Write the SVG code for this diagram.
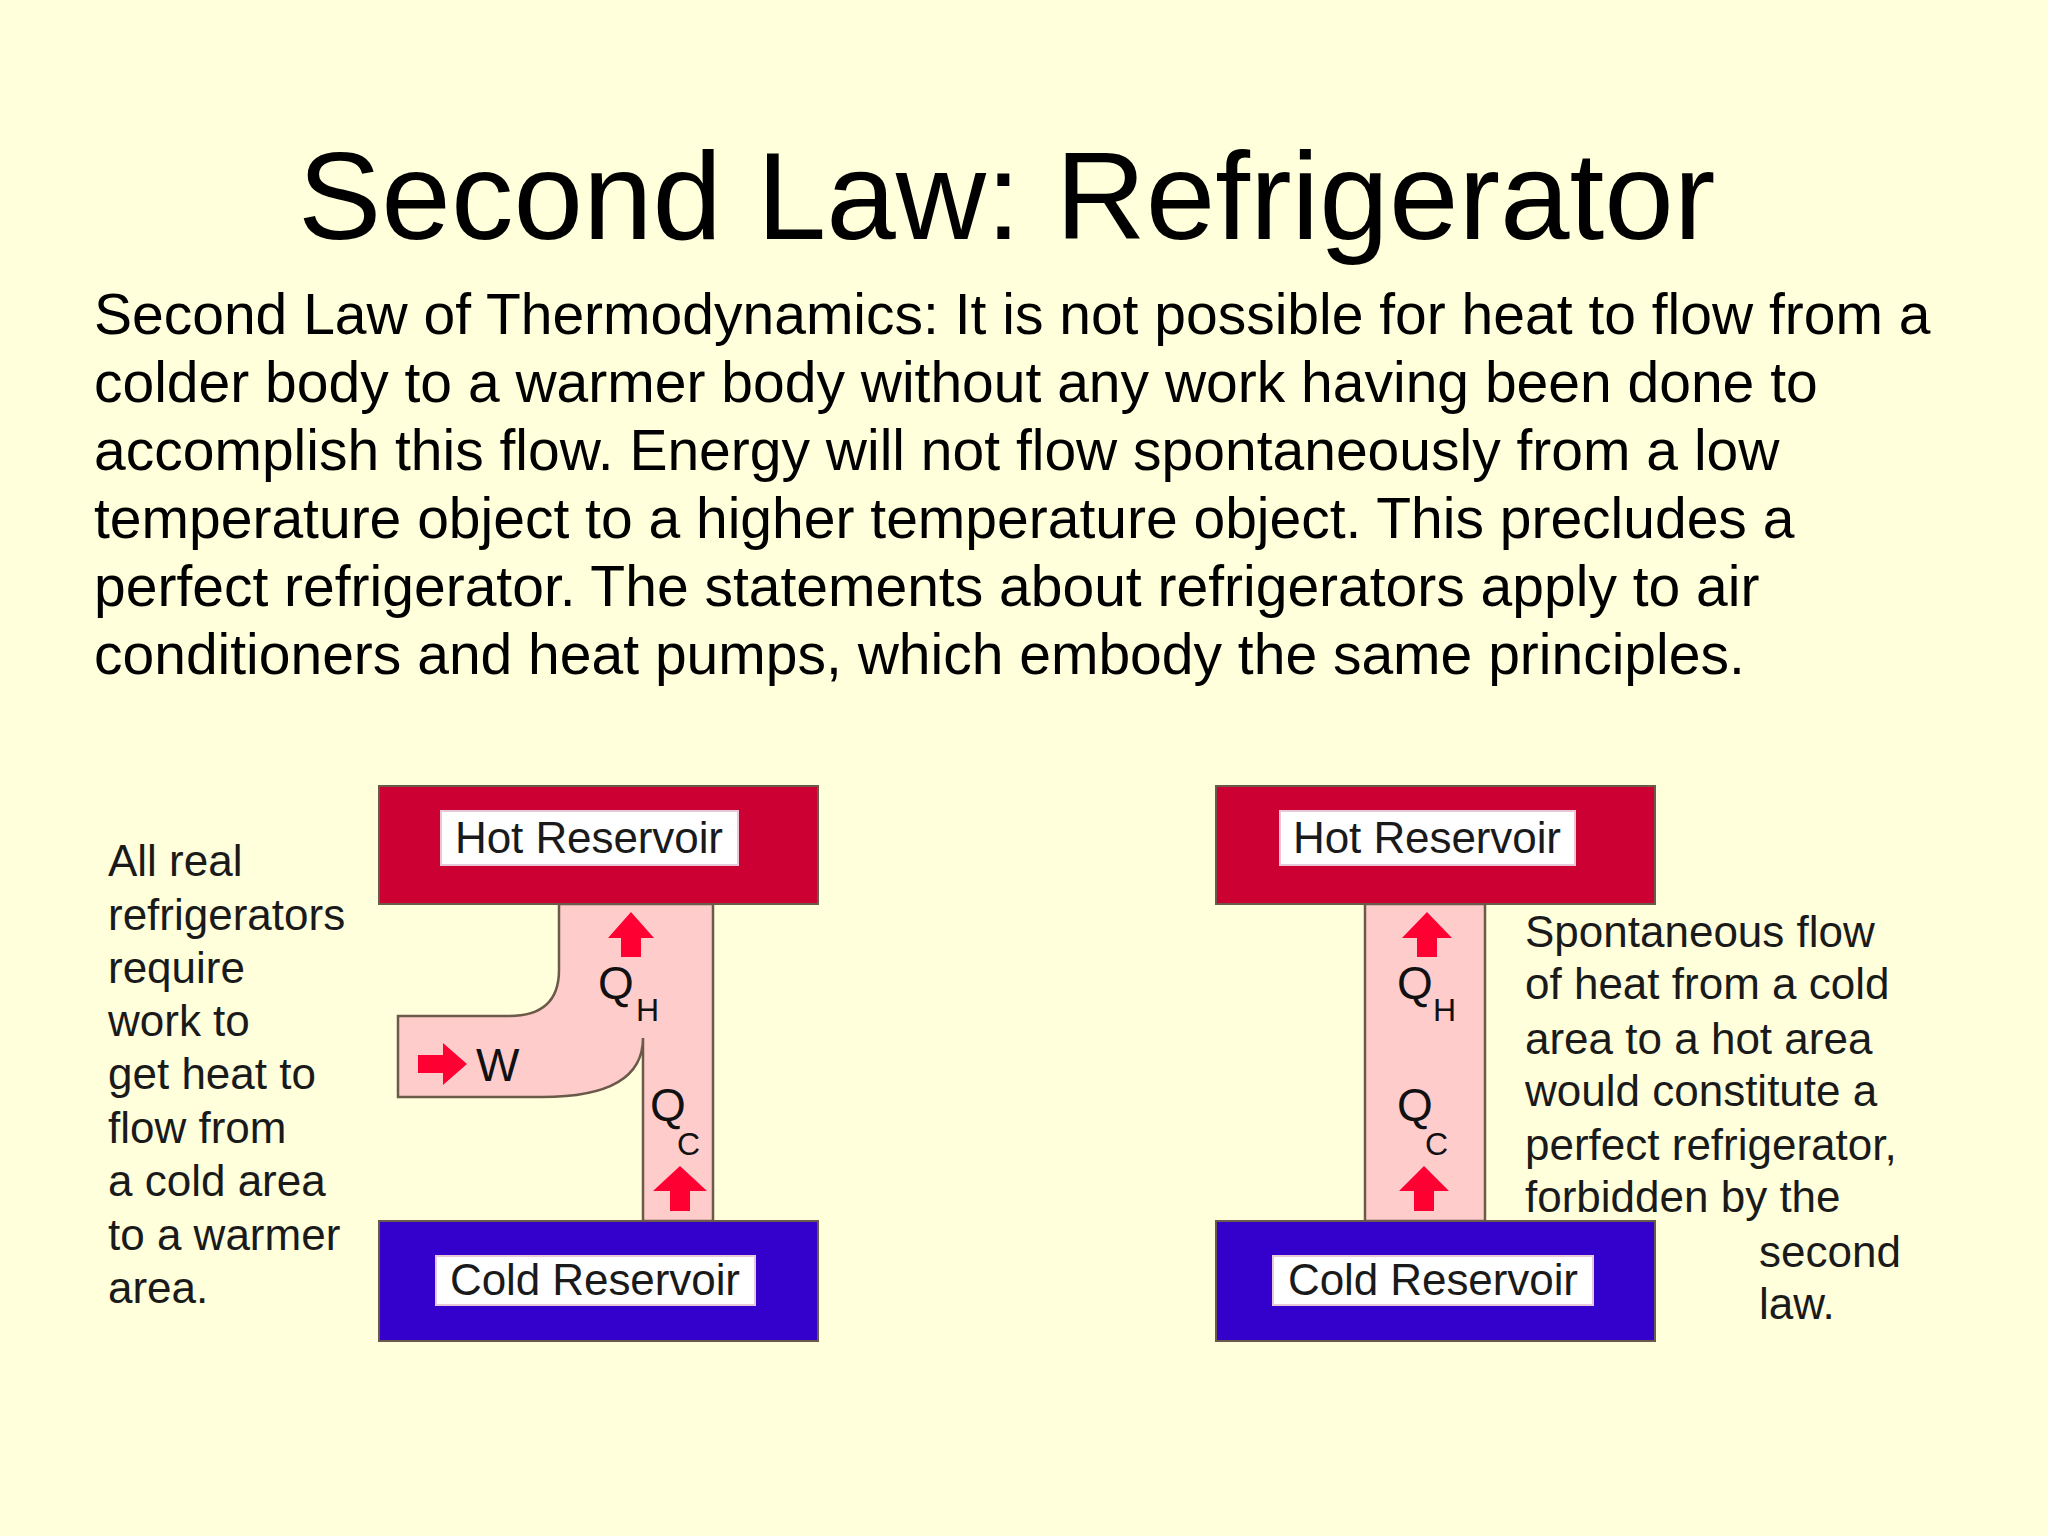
<svg xmlns="http://www.w3.org/2000/svg" width="2048" height="1536" viewBox="0 0 2048 1536">
<style>
.t{font-family:"Liberation Sans",Arial,sans-serif;fill:#000}
.d{font-family:"Liberation Sans",Arial,sans-serif;fill:#1a1a1a;font-size:44px}
.hot{fill:#CC0033;stroke:#6b5a4a;stroke-width:2}
.cold{fill:#3300CC;stroke:#6b5a4a;stroke-width:2}
.lbl{fill:#fff;stroke:#e8c8d8;stroke-width:2}
.pipe{fill:#FFCCCC;stroke:#6b5a4a;stroke-width:2.5}
.arr{fill:#FF0033}
.q{font-family:"Liberation Sans",Arial,sans-serif;fill:#111;font-size:46px}
.s{font-family:"Liberation Sans",Arial,sans-serif;fill:#111;font-size:32px}
</style>
<rect width="2048" height="1536" fill="#FFFFDC"/>
<text class="t" x="298" y="239" font-size="125">Second Law: Refrigerator</text>
<g class="t" font-size="57">
<text x="94" y="334">Second Law of Thermodynamics: It is not possible for heat to flow from a</text>
<text x="94" y="402">colder body to a warmer body without any work having been done to</text>
<text x="94" y="470">accomplish this flow. Energy will not flow spontaneously from a low</text>
<text x="94" y="538">temperature object to a higher temperature object. This precludes a</text>
<text x="94" y="606">perfect refrigerator. The statements about refrigerators apply to air</text>
<text x="94" y="674">conditioners and heat pumps, which embody the same principles.</text>
</g>
<g id="left-caption" class="d">
<text x="108" y="876">All real</text>
<text x="108" y="930">refrigerators</text>
<text x="108" y="983">require</text>
<text x="108" y="1036">work to</text>
<text x="108" y="1089">get heat to</text>
<text x="108" y="1143">flow from</text>
<text x="108" y="1196">a cold area</text>
<text x="108" y="1250">to a warmer</text>
<text x="108" y="1303">area.</text>
</g>
<g id="left-pipe">
<path class="pipe" d="M559 904 V970 Q559 1016 509 1016 H398 V1097 H542 Q643 1097 643 1038 V1221 H713 V904 Z"/>
<polygon class="arr" points="631,912 654,938 641,938 641,957 621,957 621,938 608,938"/>
<polygon class="arr" points="680,1166 707,1191 690,1191 690,1211 670,1211 670,1191 653,1191"/>
<polygon class="arr" points="418,1055 443,1055 443,1043 467,1064 443,1085 443,1073 418,1073"/>
<text class="q" x="476" y="1081">W</text>
<text class="q" x="598" y="999">Q</text><text class="s" x="636" y="1021">H</text>
<text class="q" x="650" y="1121">Q</text><text class="s" x="677" y="1155">C</text>
</g>
<g id="left-hot"><rect class="hot" x="379" y="786" width="439" height="118"/><rect class="lbl" x="441" y="811" width="297" height="54"/><text class="d" x="589" y="853" text-anchor="middle" textLength="268" font-size="42">Hot Reservoir</text></g>
<g id="left-cold"><rect class="cold" x="379" y="1221" width="439" height="120"/><rect class="lbl" x="436" y="1256" width="319" height="49"/><text class="d" x="595" y="1295" text-anchor="middle" textLength="290" font-size="42">Cold Reservoir</text></g>
<g id="right-pipe">
<rect class="pipe" x="1365" y="904" width="120" height="317"/>
<polygon class="arr" points="1427,912 1452,938 1437,938 1437,957 1417,957 1417,938 1402,938"/>
<polygon class="arr" points="1424,1166 1449,1191 1434,1191 1434,1211 1414,1211 1414,1191 1399,1191"/>
<text class="q" x="1397" y="999">Q</text><text class="s" x="1433" y="1021">H</text>
<text class="q" x="1397" y="1121">Q</text><text class="s" x="1425" y="1155">C</text>
</g>
<g id="right-hot"><rect class="hot" x="1216" y="786" width="439" height="118"/><rect class="lbl" x="1280" y="811" width="295" height="54"/><text class="d" x="1427" y="853" text-anchor="middle" textLength="268" font-size="42">Hot Reservoir</text></g>
<g id="right-cold"><rect class="cold" x="1216" y="1221" width="439" height="120"/><rect class="lbl" x="1273" y="1256" width="320" height="49"/><text class="d" x="1433" y="1295" text-anchor="middle" textLength="290" font-size="42">Cold Reservoir</text></g>
<g id="right-caption" class="d">
<text x="1525" y="947">Spontaneous flow</text>
<text x="1525" y="999">of heat from a cold</text>
<text x="1525" y="1054">area to a hot area</text>
<text x="1525" y="1106">would constitute a</text>
<text x="1525" y="1160">perfect refrigerator,</text>
<text x="1525" y="1212">forbidden by the</text>
<text x="1759" y="1267">second</text>
<text x="1759" y="1319">law.</text>
</g>
</svg>
